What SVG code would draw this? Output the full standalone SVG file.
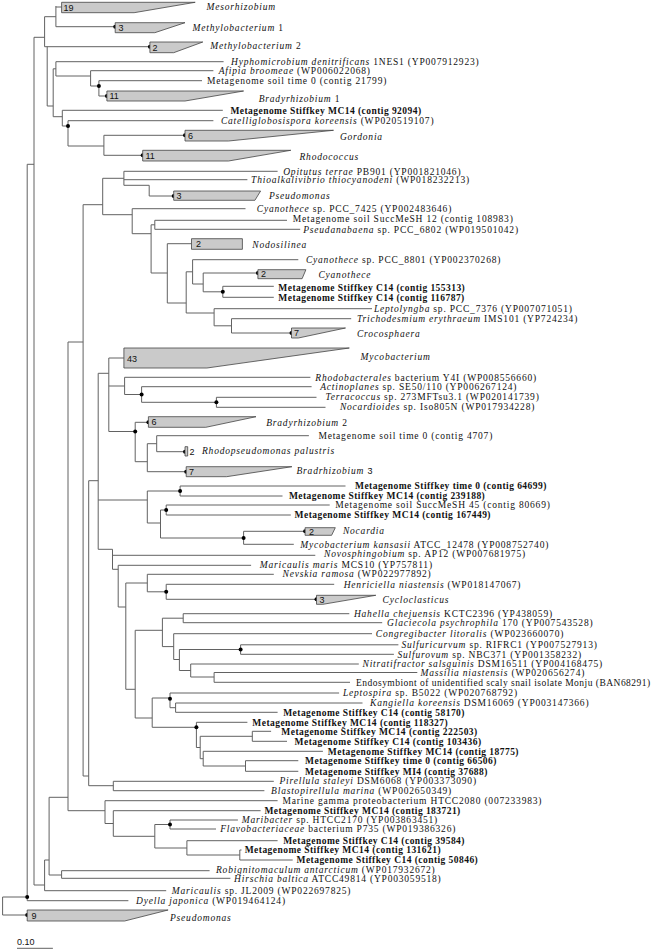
<svg xmlns="http://www.w3.org/2000/svg" width="666" height="952" viewBox="0 0 666 952">
<style>
.l{stroke:#626262;stroke-width:1;fill:none}
.q{fill:#cacaca;stroke:#444;stroke-width:0.8}
.d{fill:#000}
text{font-family:"Liberation Serif","Times New Roman",serif;font-size:9.5px;letter-spacing:0.8px;fill:#111}
text.b{font-weight:bold;letter-spacing:0.45px}
.i{font-style:italic}
text.n{font-family:"Liberation Sans",Arial,sans-serif;font-size:9px;letter-spacing:0}
</style>
<rect width="666" height="952" fill="#fff"/>
<g id="connectors">
<path class="l" d="M55.9 6V26.7M55.9 7H61.6M55.9 26.7H115.2M44.6 16.7V46.7M44.6 16.7H55.9M44.6 46.7H149.9M34 37.3H44.6M34 37.3V885M47.2 46.7V106M47.2 106H53.2M53.2 68.8V116.7M53.2 68.8H55.9M55.9 61.7V76M55.9 61.7H223.6M55.9 76H90.6M90.6 70.7V86M90.6 70.7H213.4M90.6 86H98.9M98.9 80.7V96M98.9 80.7H202M98.9 96H106.9M53.2 116.7H62.3M62.3 110.3V126M62.3 110.3H222.8M62.3 126H68M68 120.7V146M68 120.7H213.4M68 146H103.9M103.9 135.3V155.3M103.9 135.3H185M103.9 155.3H142.7"/>
<path class="l" d="M27.2 164.3V900.7M27.2 164.3H34M27.2 900.7H128.4M2.6 897V915M2.6 897H27.2M2.6 915H27.2"/>
<path class="l" d="M83.1 204.7V776M83.1 204.7H102.7M102.7 178.3V214.7M102.7 178.3H123.9M123.9 171.3V185.3M123.9 171.3H277.6M123.9 179.7H247.4M123.9 185.3H149.2M149.2 185.3V196M149.2 196H173.7M102.7 214.7H132.2M132.2 208.7V233.7M132.2 208.7H245.5M132.2 233.7H151.1M151.1 224.8V273M151.1 224.8H154.8M154.8 220.3V229.3M154.8 220.3H287M154.8 229.3H300.2M151.1 273H167.3M167.3 243.7V303M167.3 243.7H191.5M167.3 303H186.2M186.2 271.8V313M186.2 271.8H192.6M192.6 259.7V284M192.6 259.7H298.3M192.6 284H203.2M203.2 273V291.8M203.2 273H257.9M203.2 291.8H222.8M222.8 286.3V297.3M222.8 286.3H273.8M222.8 297.3H273.8M186.2 313H214.1M214.1 308.7V325.8M214.1 308.7H372M214.1 325.8H231.5M231.5 318.7V333M231.5 318.7H351.2M231.5 333H291.5"/>
<path class="l" d="M68 342V810.7M68 342H83.1M68 810.7H105"/>
<path class="l" d="M98.2 373.3V549.3M98.2 373.3H108.8M108.8 358V431.5M108.8 358H123.9M108.8 386H124.6M124.6 377.3V394.5M124.6 377.3H310.4M124.6 394.5H141.6M141.6 386.7V402.3M141.6 386.7H311.6M141.6 402.3H216.4M216.4 397.3V407.3M216.4 397.3H316.5M216.4 407.3H325.5M108.8 431.5H135.2M135.2 422.3V461.7M135.2 422.3H148.4M135.2 461.7H147.3M147.3 443.7V471.7M147.3 443.7H156.7M156.7 435.7V451.7M156.7 435.7H308.9M156.7 451.7H185M147.3 471.7H186.2"/>
<path class="l" d="M88.7 480.7V785.7M88.7 480.7H98.2M83.1 776H88.7M98.2 500H147.3M147.3 491V523M147.3 491H180.1M180.1 486V496M180.1 486H345.5M180.1 496H282.5M147.3 523H160.5M160.5 510V538M160.5 510H166.2M166.2 505V515M166.2 505H329.7M166.2 515H290.8M160.5 538H243.6M243.6 531.3V544.3M243.6 531.3H305.1M243.6 544.3H293.8"/>
<path class="l" d="M98.2 549.3H112.5M112.5 549.3V569.3M112.5 555.3H315.3M112.5 569.3H118.2M118.2 565.3V607M118.2 565.3H251.1M118.2 607H125.8M125.8 583V689.3M125.8 583H147.3M147.3 574.3V591.8M147.3 574.3H273.8M147.3 591.8H166.2M166.2 584.3V599.3M166.2 584.3H334.2M166.2 599.3H316.5"/>
<path class="l" d="M125.8 689.3H135.2M135.2 630.3V718M135.2 630.3H162.4M162.4 618.2V646.6M162.4 618.2H183.2M183.2 613.7V622.7M183.2 613.7H349.3M183.2 622.7H382.2M162.4 646.6H173.7M173.7 633.7V659.5M173.7 633.7H372M173.7 659.5H179.4M179.4 649.5V670.5M179.4 649.5H240.6M240.6 644.8V654.3M240.6 644.8H398.4M240.6 654.3H393.9M179.4 670.5H190.7M190.7 664V677M190.7 664H358.8M190.7 677H214.1M214.1 672.5V682.3M214.1 672.5H417.3M214.1 682.3H350"/>
<path class="l" d="M135.2 718H152.2M152.2 698V727.3M152.2 698H170M170 693V707.7M170 693H339.1M170 707.7H175.6M175.6 703V712.3M175.6 703H362.5M175.6 712.3H277.6M152.2 727.3H196.4M196.4 722.3V747.5M196.4 722.3H247.4M196.4 747.5H200.2M200.2 736.3V758.7M200.2 736.3H252.3M252.3 731.3V741.3M252.3 731.3H271.1M252.3 741.3H287M200.2 758.7H203.2M203.2 751.3V766M203.2 751.3H322.9M203.2 766H245.5M245.5 760.7V771.3M245.5 760.7H298.3M245.5 771.3H298.3"/>
<path class="l" d="M88.7 785.7H113.3M113.3 781.3V790.7M113.3 781.3H273.8M113.3 790.7H264.4M105 800.7V823.5M105 800.7H277.6M105 823.5H113.3M113.3 810.7V836.3M113.3 810.7H260.6M113.3 836.3H154.8M154.8 824.5V848M154.8 824.5H170M170 820V829M170 820H237.9M170 829H216M154.8 848H186.9M186.9 840.7V855M186.9 840.7H277.6M186.9 855H239.8M239.8 850V860M239.8 850H241.5M239.8 860H292.7"/>
<path class="l" d="M49.1 797.3V875M49.1 797.3H68M49.1 875H61.6M61.6 870.7V878.3M61.6 870.7H209.6M61.6 878.3H230.4M44.6 860V890.7M44.6 860H49.1M34 885H44.6M44.6 890.7H166.2"/>
<path class="l" d="M17 948.3H52.9"/>
</g>
<g id="bootstrap-dots">
<circle class="d" cx="115.2" cy="26.7" r="2"/><circle class="d" cx="149.9" cy="46.7" r="2"/><circle class="d" cx="98.9" cy="86" r="2"/><circle class="d" cx="106.9" cy="96" r="2"/><circle class="d" cx="68" cy="126" r="2"/><circle class="d" cx="185" cy="135.3" r="2"/><circle class="d" cx="142.7" cy="155.3" r="2"/><circle class="d" cx="173.7" cy="196" r="2"/><circle class="d" cx="257.9" cy="273" r="2"/><circle class="d" cx="222.8" cy="291.8" r="2"/><circle class="d" cx="291.5" cy="333" r="2"/><circle class="d" cx="141.6" cy="394.5" r="2"/><circle class="d" cx="216.4" cy="402.3" r="2"/><circle class="d" cx="148.4" cy="422.3" r="2"/><circle class="d" cx="135.2" cy="431.5" r="2"/><circle class="d" cx="185" cy="451.7" r="2"/><circle class="d" cx="186.2" cy="471.7" r="2"/><circle class="d" cx="180.1" cy="491" r="2"/><circle class="d" cx="166.2" cy="510" r="2"/><circle class="d" cx="305.1" cy="531.3" r="2"/><circle class="d" cx="243.6" cy="538" r="2"/><circle class="d" cx="166.2" cy="591.8" r="2"/><circle class="d" cx="316.5" cy="599.3" r="2"/><circle class="d" cx="240.6" cy="649.5" r="2"/><circle class="d" cx="170" cy="698.7" r="2"/><circle class="d" cx="196.4" cy="727.3" r="2"/><circle class="d" cx="170" cy="824.5" r="2"/><circle class="d" cx="27.2" cy="897" r="2"/><circle class="d" cx="27.2" cy="915" r="2"/>
</g>
<g id="n-mesorhizobium"><polygon class="q" points="61.6,2.3 195.2,2.3 134.1,12.7 61.6,12.7"/><text class="n" x="63.4" y="10.7">19</text><text x="206.6" y="10.3" class="i">Mesorhizobium</text></g>
<g id="n-methylobacterium1"><polygon class="q" points="115.2,22.7 185,22.7 154.8,32.7 115.2,32.7"/><text class="n" x="118.5" y="30.9">3</text><text x="192.6" y="31"><tspan class="i">Methylobacterium</tspan> 1</text></g>
<g id="n-methylobacterium2"><polygon class="q" points="149.9,42 202.8,42 173.7,52.7 149.9,52.7"/><text class="n" x="152.5" y="50.5">2</text><text x="210.3" y="49"><tspan class="i">Methylobacterium</tspan> 2</text></g>
<g id="n-hyphomicrobium"><text x="231.1" y="64.6"><tspan class="i">Hyphomicrobium denitrificans</tspan> 1NES1 (YP007912923)</text></g>
<g id="n-afipia"><text x="218.7" y="74.3"><tspan class="i">Afipia broomeae</tspan> (WP006022068)</text></g>
<g id="n-meta21799"><text x="206.9" y="84">Metagenome soil time 0 (contig 21799)</text></g>
<g id="n-bradyrhizobium1"><polygon class="q" points="106.9,91 243.6,91 185,101 106.9,101"/><text class="n" x="109.5" y="99.2">11</text><text x="258.7" y="101.6"><tspan class="i">Bradyrhizobium</tspan> 1</text></g>
<g id="n-mc14-92094"><text class="b" x="230.4" y="113.6">Metagenome Stiffkey MC14 (contig 92094)</text></g>
<g id="n-catelliglobosispora"><text x="220.9" y="124"><tspan class="i">Catelliglobosispora koreensis</tspan> (WP020519107)</text></g>
<g id="n-gordonia"><polygon class="q" points="185,130.3 333.5,130.3 228.5,141 185,141"/><text class="n" x="188" y="138.9">6</text><text x="339.9" y="140" class="i">Gordonia</text></g>
<g id="n-rhodococcus"><polygon class="q" points="142.7,150.3 290.8,150.3 228.5,161 142.7,161"/><text class="n" x="145.5" y="158.9">11</text><text x="299.5" y="160" class="i">Rhodococcus</text></g>
<g id="n-opitutus"><text x="283.2" y="174.6"><tspan class="i">Opitutus terrae</tspan> PB901 (YP001821046)</text></g>
<g id="n-thioalkalivibrio"><text x="251.1" y="183"><tspan class="i">Thioalkalivibrio thiocyanodeni</tspan> (WP018232213)</text></g>
<g id="n-pseudomonas3"><polygon class="q" points="173.7,191 260.6,191 254.9,200.3 173.7,200.3"/><text class="n" x="176.5" y="198.9">3</text><text x="268.9" y="198.6" class="i">Pseudomonas</text></g>
<g id="n-cyanothece7425"><text x="256.8" y="211.8"><tspan class="i">Cyanothece</tspan> sp. PCC_7425 (YP002483646)</text></g>
<g id="n-succmesh12"><text x="292.7" y="222.3">Metagenome soil SuccMeSH 12 (contig 108983)</text></g>
<g id="n-pseudanabaena"><text x="303.2" y="232.6"><tspan class="i">Pseudanabaena</tspan> sp. PCC_6802 (WP019501042)</text></g>
<g id="n-nodosilinea"><polygon class="q" points="191.5,238.7 242.4,238.7 242.4,249.3 191.5,249.3"/><text class="n" x="196" y="247.2">2</text><text x="252.3" y="247.6" class="i">Nodosilinea</text></g>
<g id="n-cyanothece8801"><text x="305.9" y="262.8"><tspan class="i">Cyanothece</tspan> sp. PCC_8801 (YP002370268)</text></g>
<g id="n-cyanothece"><polygon class="q" points="257.9,269.7 305.9,269.7 302.1,278.7 257.9,278.7"/><text class="n" x="261" y="277.4">2</text><text x="318.4" y="277.8" class="i">Cyanothece</text></g>
<g id="n-c14-155313"><text class="b" x="278.3" y="290.8">Metagenome Stiffkey C14 (contig 155313)</text></g>
<g id="n-c14-116787"><text class="b" x="278.3" y="301.1">Metagenome Stiffkey C14 (contig 116787)</text></g>
<g id="n-leptolyngba"><text x="373.9" y="311.6"><tspan class="i">Leptolyngba</tspan> sp. PCC_7376 (YP007071051)</text></g>
<g id="n-trichodesmium"><text x="356.9" y="322.3"><tspan class="i">Trichodesmium erythraeum</tspan> IMS101 (YP724234)</text></g>
<g id="n-crocosphaera"><polygon class="q" points="291.5,328 345.5,328 298.3,338 291.5,338"/><text class="n" x="294" y="336.2">7</text><text x="356.9" y="336.8" class="i">Crocosphaera</text></g>
<g id="n-mycobacterium"><polygon class="q" points="123.9,348 349.3,348 206.9,368 123.9,368"/><text class="n" x="127" y="361.5">43</text><text x="360.6" y="360" class="i">Mycobacterium</text></g>
<g id="n-rhodobacterales"><text x="315.3" y="380.6"><tspan class="i">Rhodobacterales</tspan> bacterium Y4I (WP008556660)</text></g>
<g id="n-actinoplanes"><text x="320.2" y="390"><tspan class="i">Actinoplanes</tspan> sp. SE50/110 (YP006267124)</text></g>
<g id="n-terracoccus"><text x="325.5" y="400.3"><tspan class="i">Terracoccus</tspan> sp. 273MFTsu3.1 (WP020141739)</text></g>
<g id="n-nocardioides"><text x="339.9" y="410.3"><tspan class="i">Nocardioides</tspan> sp. Iso805N (WP017934228)</text></g>
<g id="n-bradyrhizobium2"><polygon class="q" points="148.4,416.7 256,416.7 205.8,427.3 148.4,427.3"/><text class="n" x="151.5" y="425.2">6</text><text x="266.2" y="425.6"><tspan class="i">Bradyrhizobium</tspan> 2</text></g>
<g id="n-meta4707"><text x="318.4" y="439">Metagenome soil time 0 (contig 4707)</text></g>
<g id="n-rhodopseudomonas"><polygon class="q" points="185,446.7 187.7,446.7 187.7,456 185,456"/><text class="n" x="189.5" y="454.5">2</text><text x="202" y="454" class="i">Rhodopseudomonas palustris</text></g>
<g id="n-bradrhizobium3"><polygon class="q" points="186.2,466.7 291.9,466.7 226.6,476.7 186.2,476.7"/><text class="n" x="189" y="474.9">7</text><text x="296.5" y="474"><tspan class="i">Bradrhizobium</tspan> <tspan style="font-family:'Liberation Sans',Arial,sans-serif;font-size:9px">3</tspan></text></g>
<g id="n-time0-64699"><text class="b" x="355" y="488.8">Metagenome Stiffkey time 0 (contig 64699)</text></g>
<g id="n-mc14-239188"><text class="b" x="288.9" y="498.8">Metagenome Stiffkey MC14 (contig 239188)</text></g>
<g id="n-succmesh45"><text x="335.3" y="507.8">Metagenome soil SuccMeSH 45 (contig 80669)</text></g>
<g id="n-mc14-167449"><text class="b" x="294.6" y="517.8">Metagenome Stiffkey MC14 (contig 167449)</text></g>
<g id="n-nocardia"><polygon class="q" points="305.1,527.7 335.3,527.7 331.6,535.3 305.1,535.3"/><text class="n" x="309" y="534.7">2</text><text x="342.9" y="533.8" class="i">Nocardia</text></g>
<g id="n-kansasii"><text x="300.2" y="547.6"><tspan class="i">Mycobacterium kansasii</tspan> ATCC_12478 (YP008752740)</text></g>
<g id="n-novosphingobium"><text x="324" y="557.3"><tspan class="i">Novosphingobium</tspan> sp. AP12 (WP007681975)</text></g>
<g id="n-maricaulis-maris"><text x="259.8" y="568.3"><tspan class="i">Maricaulis maris</tspan> MCS10 (YP757811)</text></g>
<g id="n-nevskia"><text x="282.5" y="577.3"><tspan class="i">Nevskia ramosa</tspan> (WP022977892)</text></g>
<g id="n-henriciella"><text x="343.7" y="587.6"><tspan class="i">Henriciella niastensis</tspan> (WP018147067)</text></g>
<g id="n-cycloclasticus"><polygon class="q" points="316.5,595.3 375.8,595.3 322.9,604.3 316.5,604.3"/><text class="n" x="319.5" y="603">3</text><text x="382.6" y="603.3" class="i">Cycloclasticus</text></g>
<g id="n-hahella"><text x="353.9" y="617"><tspan class="i">Hahella chejuensis</tspan> KCTC2396 (YP438059)</text></g>
<g id="n-glaciecola"><text x="387.1" y="626"><tspan class="i">Glaciecola psychrophila</tspan> 170 (YP007543528)</text></g>
<g id="n-congregibacter"><text x="375.8" y="637"><tspan class="i">Congregibacter litoralis</tspan> (WP023660070)</text></g>
<g id="n-sulfuricurvum"><text x="401.5" y="648"><tspan class="i">Sulfuricurvum</tspan> sp. RIFRC1 (YP007527913)</text></g>
<g id="n-sulfurovum"><text x="397.5" y="657.6"><tspan class="i">Sulfurovum</tspan> sp. NBC371 (YP001358232)</text></g>
<g id="n-nitratifractor"><text x="362.5" y="667.3"><tspan class="i">Nitratifractor salsguinis</tspan> DSM16511 (YP004168475)</text></g>
<g id="n-massilia"><text x="420.5" y="675.8"><tspan class="i">Massilia niastensis</tspan> (WP020656274)</text></g>
<g id="n-endosymbiont"><text x="356" y="685.6" textLength="295" lengthAdjust="spacing">Endosymbiont of unidentified scaly snail isolate Monju (BAN68291)</text></g>
<g id="n-leptospira"><text x="342.9" y="696"><tspan class="i">Leptospira</tspan> sp. B5022 (WP020768792)</text></g>
<g id="n-kangiella"><text x="370.1" y="706.3"><tspan class="i">Kangiella koreensis</tspan> DSM16069 (YP003147366)</text></g>
<g id="n-c14-58170"><text class="b" x="283.2" y="715.6">Metagenome Stiffkey C14 (contig 58170)</text></g>
<g id="n-mc14-118327"><text class="b" x="252.3" y="725.6">Metagenome Stiffkey MC14 (contig 118327)</text></g>
<g id="n-mc14-222503"><text class="b" x="281.3" y="734.6">Metagenome Stiffkey MC14 (contig 222503)</text></g>
<g id="n-c14-103436"><text class="b" x="294.6" y="744.6">Metagenome Stiffkey C14 (contig 103436)</text></g>
<g id="n-mc14-18775"><text class="b" x="327.8" y="754.6">Metagenome Stiffkey MC14 (contig 18775)</text></g>
<g id="n-time0-66506"><text class="b" x="305.1" y="764">Metagenome Stiffkey time 0 (contig 66506)</text></g>
<g id="n-mi4-37688"><text class="b" x="305.1" y="774.6">Metagenome Stiffkey MI4 (contig 37688)</text></g>
<g id="n-pirellula"><text x="279.5" y="784.3"><tspan class="i">Pirellula staleyi</tspan> DSM6068 (YP003373090)</text></g>
<g id="n-blastopirellula"><text x="271.1" y="794"><tspan class="i">Blastopirellula marina</tspan> (WP002650349)</text></g>
<g id="n-marine-gamma"><text x="282.5" y="803.8">Marine gamma proteobacterium HTCC2080 (007233983)</text></g>
<g id="n-mc14-183721"><text class="b" x="264.4" y="814">Metagenome Stiffkey MC14 (contig 183721)</text></g>
<g id="n-maribacter"><text x="241.7" y="823.3"><tspan class="i">Maribacter</tspan> sp. HTCC2170 (YP003863451)</text></g>
<g id="n-flavobacteriaceae"><text x="220.2" y="832.3"><tspan class="i">Flavobacteriaceae</tspan> bacterium P735 (WP019386326)</text></g>
<g id="n-c14-39584"><text class="b" x="283.2" y="844">Metagenome Stiffkey C14 (contig 39584)</text></g>
<g id="n-mc14-131621"><text class="b" x="244.7" y="853.3">Metagenome Stiffkey MC14 (contig 131621)</text></g>
<g id="n-c14-50846"><text class="b" x="296.5" y="863.3">Metagenome Stiffkey C14 (contig 50846)</text></g>
<g id="n-robignitomaculum"><text x="216" y="873"><tspan class="i">Robignitomaculum antarcticum</tspan> (WP017932672)</text></g>
<g id="n-hirschia"><text x="234.1" y="882.3"><tspan class="i">Hirschia baltica</tspan> ATCC49814 (YP003059518)</text></g>
<g id="n-maricaulis-jl2009"><text x="171.8" y="893.5"><tspan class="i">Maricaulis</tspan> sp. JL2009 (WP022697825)</text></g>
<g id="n-dyella"><text x="136" y="904"><tspan class="i">Dyella japonica</tspan> (WP019464124)</text></g>
<g id="n-pseudomonas9"><polygon class="q" points="27.2,910 168.1,910 124.6,921 27.2,921"/><text class="n" x="31.5" y="918.7">9</text><text x="170" y="921" class="i">Pseudomonas</text></g>
<g id="scale-bar"><text class="n" x="17" y="944.5">0.10</text></g>
</svg>
